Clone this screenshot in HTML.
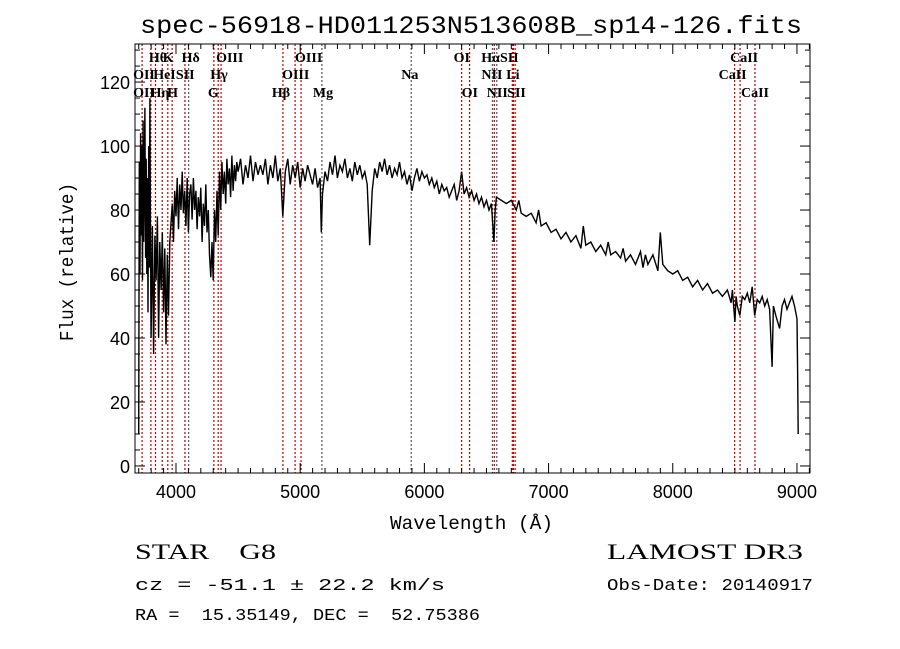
<!DOCTYPE html>
<html><head><meta charset="utf-8"><style>
body{margin:0;background:#fff;}
svg{display:block;}
</style></head><body>
<svg id="chart" width="900" height="649" xmlns="http://www.w3.org/2000/svg">
<rect width="900" height="649" fill="#fff"/>
<text x="140" y="33" textLength="662" lengthAdjust="spacingAndGlyphs" font-family="Liberation Mono, monospace" font-size="25">spec-56918-HD011253N513608B_sp14-126.fits</text>
<g id="lines"></g>
<g id="spec"></g>
<g id="axes"></g>
<text x="390" y="529" textLength="163" lengthAdjust="spacingAndGlyphs" font-family="Liberation Mono, monospace" font-size="19">Wavelength (Å)</text>
<text transform="translate(73,341) rotate(-90)" textLength="158" lengthAdjust="spacingAndGlyphs" font-family="Liberation Mono, monospace" font-size="19">Flux (relative)</text>
<text x="135" y="559" textLength="141" lengthAdjust="spacingAndGlyphs" xml:space="preserve" font-family="Liberation Serif, serif" font-size="22">STAR    G8</text>
<text x="135" y="590" textLength="310" lengthAdjust="spacingAndGlyphs" font-family="Liberation Mono, monospace" font-size="17">cz = -51.1 ± 22.2 km/s</text>
<text x="135" y="620" textLength="345" lengthAdjust="spacingAndGlyphs" xml:space="preserve" font-family="Liberation Mono, monospace" font-size="17">RA =  15.35149, DEC =  52.75386</text>
<text x="607" y="559" textLength="196" lengthAdjust="spacingAndGlyphs" font-family="Liberation Serif, serif" font-size="22">LAMOST DR3</text>
<text x="607" y="590" textLength="206" lengthAdjust="spacingAndGlyphs" font-family="Liberation Mono, monospace" font-size="17">Obs-Date: 20140917</text>
</svg>
<script>
const wavelengths=[3700,3705,3710,3715,3720,3725,3730,3735,3740,3745,3750,3755,3760,3765,3770,3775,3780,3785,3790,3795,3800,3810,3820,3830,3840,3850,3860,3870,3880,3890,3900,3910,3920,3930,3940,3950,3960,3970,3980,3990,4000,4010,4020,4030,4040,4050,4060,4070,4080,4090,4100,4110,4120,4130,4140,4150,4160,4170,4180,4190,4200,4210,4220,4230,4240,4250,4260,4270,4280,4290,4300,4310,4320,4330,4340,4350,4360,4370,4380,4390,4400,4410,4420,4430,4440,4450,4460,4470,4480,4490,4500,4520,4540,4560,4580,4600,4620,4640,4660,4680,4700,4720,4740,4760,4780,4800,4820,4840,4860,4880,4900,4920,4940,4960,4980,5000,5020,5040,5060,5080,5100,5120,5140,5160,5170,5180,5200,5220,5240,5260,5280,5300,5320,5340,5360,5380,5400,5420,5440,5460,5480,5500,5520,5540,5560,5580,5600,5620,5640,5660,5680,5700,5720,5740,5760,5780,5800,5820,5840,5860,5880,5900,5920,5940,5960,5980,6000,6020,6040,6060,6080,6100,6120,6140,6160,6180,6200,6220,6240,6260,6280,6300,6320,6340,6360,6380,6400,6420,6440,6460,6480,6500,6520,6540,6560,6570,6580,6620,6660,6700,6740,6760,6780,6820,6860,6900,6920,6940,6980,7020,7060,7100,7140,7180,7220,7260,7280,7300,7340,7380,7420,7460,7480,7500,7540,7580,7600,7620,7660,7700,7740,7760,7780,7800,7840,7880,7900,7920,7960,8000,8040,8080,8120,8160,8200,8240,8280,8320,8360,8400,8440,8470,8480,8500,8510,8520,8540,8560,8580,8600,8620,8640,8660,8680,8700,8720,8740,8760,8780,8800,8810,8830,8860,8880,8900,8920,8940,8960,8980,9000,9005,9010];
const fluxValues=[10,95,60,104,72,100,58,108,70,88,112,65,96,60,90,48,100,62,115,70,40,75,35,72,58,78,40,70,55,73,48,68,38,66,47,70,76,82,70,86,78,90,74,88,80,92,79,86,75,90,73,85,88,77,90,80,86,74,84,78,87,70,82,75,88,73,80,66,59,70,58,80,70,86,72,92,80,95,85,92,82,96,88,93,84,97,86,94,89,95,92,96,88,94,90,97,89,95,91,94,91,96,88,94,90,97,89,93,78,92,96,88,94,90,95,87,93,89,94,91,88,93,87,90,73,85,92,89,95,91,97,90,94,92,96,90,93,89,95,91,94,90,92,88,69,86,93,90,95,92,96,91,94,90,93,91,95,90,92,88,91,86,90,93,89,92,90,91,88,90,87,89,85,88,86,87,84,86,88,83,86,92,85,87,84,86,83,85,82,84,81,83,80,82,70,80,84,83,82,83,80,83,79,78,79,76,80,75,76,73,74,71,73,70,72,68,75,69,70,67,69,66,70,66,67,65,68,64,66,63,67,62,66,63,66,61,73,63,61,60,61,58,59,56,58,55,57,54,55,53,55,51,55,45,53,50,47,53,52,54,51,56,47,52,51,53,50,52,49,31,50,47,43,50,52,49,51,53,50,46,30,10];
const xTicks=[4000,5000,6000,7000,8000,9000];
const yTicks=[0,20,40,60,80,100,120];
const lineWaves=[3727,3798,3835,3889,3934,3969,4072,4102,4305,4340,4363,4861,4959,5007,5175,5894,6300,6364,6548,6563,6583,6708,6717,6731,8498,8542,8662];
const lineColors=['r','r','r','r','r','r','r','g','r','r','r','r','r','r','g','g','r','r','g','r','g','r','r','r','r','r','r'];
const labelTexts=['Hθ','K','Hδ','OIII','OIII','OI','HαSII','CaII','OII','HeI','SII','Hγ','OIII','Na','NII','Li','CaII','OII','Hη','H','G','Hβ','Mg','OI','NII','SII','CaII'];
const labelWaves=[3798,3934,4102,4363,5007,6300,6563,8542,3727,3889,4072,4340,4959,5894,6548,6708,8498,3727,3835,3969,4305,4861,5175,6364,6583,6731,8662];
const labelRows=[0,0,0,0,0,0,0,0,1,1,1,1,1,1,1,1,1,2,2,2,2,2,2,2,2,2,2];

const L=135,R=810,T=44,B=473;
const X0=3670,X1=9105,Y0=-2.2,Y1=131.9;
const xs=w=>L+(w-X0)/(X1-X0)*(R-L);
const ys=v=>B-(v-Y0)/(Y1-Y0)*(B-T);
const NS='http://www.w3.org/2000/svg';
function mk(tag,attrs,parent){const e=document.createElementNS(NS,tag);for(const k in attrs)e.setAttribute(k,attrs[k]);parent.appendChild(e);return e;}
const gl=document.getElementById('lines'),gs=document.getElementById('spec'),ga=document.getElementById('axes');

lineWaves.forEach((w,i)=>{
 const x=xs(w);
 const l=mk('line',{x1:x,x2:x,y1:T,y2:B,stroke:lineColors[i]==='r'?'#c00000':'#555',"stroke-width":1.2,"stroke-dasharray":"2,2"},gl);
 
 
});
const rowY=[62,79,97];
const labelOff=[-2,-5,-7,-5,-6,-8,-13,-10,-9,-9,-9,-8,-13,-10,-11,-6,-16,-9,-5,-5,-6,-11,-9,-8,-10,-8,-14];
labelTexts.forEach((t,i)=>{
 const tx=mk('text',{x:xs(labelWaves[i])+labelOff[i],y:rowY[labelRows[i]],"font-family":"Liberation Serif, serif","font-size":14,"font-weight":"bold"},gl);
 tx.textContent=t;
 
 
});

let d='';
wavelengths.forEach((w,i)=>{d+=(i?'L':'M')+xs(w).toFixed(1)+','+ys(fluxValues[i]).toFixed(1);});
const p=mk('path',{d:d,fill:'none',stroke:'#000',"stroke-width":1.4},gs);



const box=mk('rect',{x:L,y:T,width:R-L,height:B-T,fill:'none',stroke:'#000',"stroke-width":1},ga);


for(let w=3700;w<=9100;w+=100){
 const x=xs(w),len=(w%1000===0)?10:5;
 mk('line',{x1:x,x2:x,y1:B,y2:B-len,stroke:'#000'},ga);
 mk('line',{x1:x,x2:x,y1:T,y2:T+len,stroke:'#000'},ga);
}
for(let v=0;v<=130;v+=5){
 const y=ys(v),len=(v%20===0)?10:5;
 mk('line',{x1:L,x2:L+len,y1:y,y2:y,stroke:'#000'},ga);
 mk('line',{x1:R,x2:R-len,y1:y,y2:y,stroke:'#000'},ga);
}
xTicks.forEach(v=>{
 const t=mk('text',{x:xs(v),y:B+25,"text-anchor":"middle","font-family":"Liberation Sans, sans-serif","font-size":18},ga);
 t.textContent=v;
 
 
});
yTicks.forEach(v=>{
 const t=mk('text',{x:L-5,y:ys(v)+7,"text-anchor":"end","font-family":"Liberation Sans, sans-serif","font-size":18},ga);
 t.textContent=v;
 
 
});
</script>
</body></html>
